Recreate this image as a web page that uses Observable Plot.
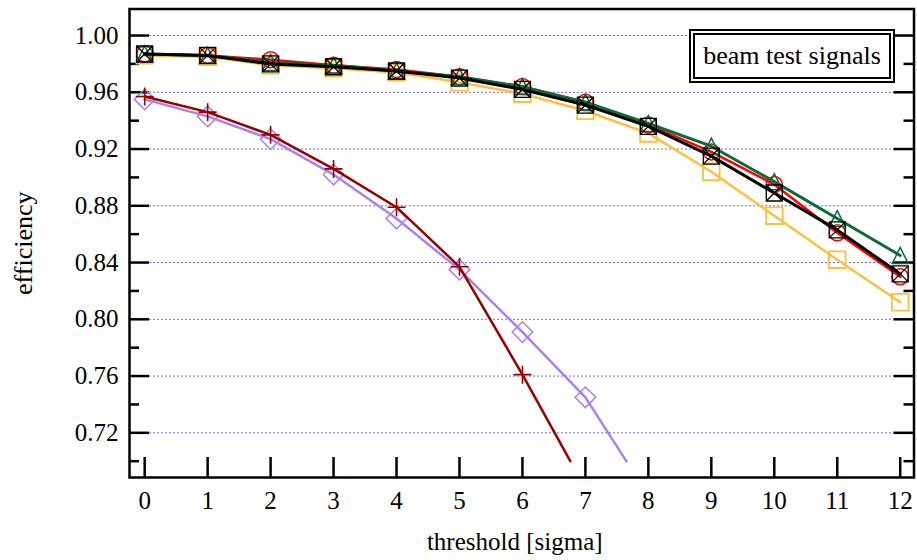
<!DOCTYPE html>
<html>
<head>
<meta charset="utf-8">
<script src="https://cdn.jsdelivr.net/npm/d3@7"></script>
<script src="https://cdn.jsdelivr.net/npm/@observablehq/plot@0.6"></script>
<style>
  body { margin: 0; background: #fff; }
  #chart { position: relative; width: 917px; height: 560px; }
  #chart svg text { font-variant-ligatures: none; }
  #legend {
    position: absolute; left: 689px; top: 29px; width: 206px; height: 54px;
    box-sizing: border-box; border: 6px double #000; background: #fff;
    font: 26px "Liberation Serif", "Times New Roman", serif;
    display: flex; align-items: center; justify-content: center; white-space: nowrap;
  }
</style>
</head>
<body>
<div id="chart"><div id="legend">beam test signals</div></div>
<script>
// Threshold in units of noise sigma
const thresholds = [0, 1, 2, 3, 4, 5, 6, 7, 8, 9, 10, 11, 12];

// Efficiency per threshold, one array per signal set
const redEff    = [0.987, 0.986, 0.983, 0.979, 0.976, 0.971, 0.964, 0.953, 0.937, 0.918, 0.895, 0.861, 0.830];
const greenEff  = [0.987, 0.986, 0.981, 0.979, 0.975, 0.971, 0.964, 0.953, 0.938, 0.922, 0.897, 0.871, 0.845];
const blackEff  = [0.987, 0.986, 0.980, 0.978, 0.975, 0.970, 0.962, 0.951, 0.936, 0.915, 0.889, 0.863, 0.832];
const orangeEff = [0.986, 0.985, 0.979, 0.977, 0.974, 0.967, 0.959, 0.947, 0.931, 0.904, 0.873, 0.842, 0.812];
const darkRedEff = [0.957, 0.946, 0.930, 0.906, 0.879, 0.837, 0.761];
const purpleEff  = [0.955, 0.943, 0.927, 0.902, 0.871, 0.835, 0.791, 0.745];

// Where the two steep curves leave the drawn range
const darkRedEnd = [6.76, 0.700];
const purpleEnd  = [7.65, 0.700];

// Axis ticks
const yMajor = [0.72, 0.76, 0.80, 0.84, 0.88, 0.92, 0.96, 1.00];
const yMinor = [0.70, 0.74, 0.78, 0.82, 0.86, 0.90, 0.94, 0.98];

const rows = vals => vals.map((y, i) => ({x: thresholds[i], y}));
const withEnd = (vals, end) => [...rows(vals), {x: end[0], y: end[1]}];

// Open marker shapes; r is recovered from the symbol area Plot passes in
const rad = s => Math.sqrt(s / Math.PI);
const openCircle = {draw(c, s) { const r = rad(s); c.moveTo(r, 0); c.arc(0, 0, r, 0, 2 * Math.PI); }};
const openSquare = {draw(c, s) { const r = rad(s); c.rect(-r, -r, 2 * r, 2 * r); }};
const squareX = {draw(c, s) {
  const r = rad(s);
  c.rect(-r, -r, 2 * r, 2 * r);
  c.moveTo(-r, -r); c.lineTo(r, r);
  c.moveTo(r, -r); c.lineTo(-r, r);
}};
const openTriangle = {draw(c, s) { const r = rad(s); c.moveTo(0, -r); c.lineTo(r, r); c.lineTo(-r, r); c.closePath(); }};
const openDiamond = {draw(c, s) { const r = rad(s); c.moveTo(0, -r); c.lineTo(r, 0); c.lineTo(0, r); c.lineTo(-r, 0); c.closePath(); }};
const thinPlus = {draw(c, s) { const r = rad(s); c.moveTo(-r, 0); c.lineTo(r, 0); c.moveTo(0, -r); c.lineTo(0, r); }};

const W = 917, H = 560;
const mL = 129, mR = 3.5, mT = 8.5, mB = 83;
const frameW = W - mL - mR, frameH = H - mT - mB;
const tickLong = 20, tickShort = 10;

const series = [
  {vals: orangeEff, color: "#fdbf3f", width: 2.5, symbol: openSquare, r: 8.3, sw: 1.8},
  {vals: redEff,    color: "#ff0000", width: 2.5, symbol: openCircle, r: 8,   sw: 1.5},
  {vals: greenEff,  color: "#0b6b3a", width: 3,   symbol: openTriangle, r: 8, sw: 1.5},
  {vals: blackEff,  color: "#000000", width: 3,   symbol: squareX,    r: 8,   sw: 1.3}
];

const marks = [
  Plot.ruleY(yMajor, {stroke: "#6a6af5", strokeWidth: 1, strokeDasharray: "2,2"}),
  // inward ticks on left, right and bottom
  Plot.ruleY(yMajor, {insetRight: frameW - tickLong, stroke: "#000", strokeWidth: 2.5}),
  Plot.ruleY(yMinor, {insetRight: frameW - tickShort, stroke: "#000", strokeWidth: 2.5}),
  Plot.ruleY(yMajor, {insetLeft: frameW - tickLong, stroke: "#000", strokeWidth: 2.5}),
  Plot.ruleY(yMinor, {insetLeft: frameW - tickShort, stroke: "#000", strokeWidth: 2.5}),
  Plot.ruleX(thresholds, {insetTop: frameH - tickLong, stroke: "#000", strokeWidth: 2.5}),
  Plot.axisY(yMajor, {tickSize: 0, tickPadding: 11, tickFormat: d3.format(".2f"), label: null}),
  Plot.axisX(thresholds, {tickSize: 0, tickPadding: 14, tickFormat: d3.format("d"), label: null}),
  Plot.text(["efficiency"], {frameAnchor: "left", textAnchor: "middle", lineAnchor: "middle", rotate: -90, dx: -106, fontSize: 26}),
  Plot.text(["threshold [sigma]"], {frameAnchor: "bottom", textAnchor: "middle", lineAnchor: "middle", dx: -7, dy: 64, fontSize: 25})
];

// purple and dark red curves, dark red drawn over purple
marks.push(
  Plot.line(withEnd(purpleEff, purpleEnd), {x: "x", y: "y", stroke: "#a882ec", strokeWidth: 2.5}),
  Plot.dot(rows(purpleEff), {x: "x", y: "y", symbol: openDiamond, r: 10.3, fill: "none", stroke: "#a882ec", strokeWidth: 1.5}),
  Plot.line(withEnd(darkRedEff, darkRedEnd), {x: "x", y: "y", stroke: "#990000", strokeWidth: 2.5}),
  Plot.dot(rows(darkRedEff), {x: "x", y: "y", symbol: thinPlus, r: 9, fill: "none", stroke: "#990000", strokeWidth: 1.6})
);

for (const s of series) {
  marks.push(
    Plot.line(rows(s.vals), {x: "x", y: "y", stroke: s.color, strokeWidth: s.width}),
    Plot.dot(rows(s.vals), {x: "x", y: "y", symbol: s.symbol, r: s.r, fill: "none", stroke: s.color, strokeWidth: s.sw})
  );
}

marks.push(Plot.frame({stroke: "#000", strokeWidth: 2.5}));

const chart = Plot.plot({
  width: W, height: H,
  marginLeft: mL, marginRight: mR, marginTop: mT, marginBottom: mB,
  x: {domain: [-0.241, 12.219]},
  y: {domain: [0.6885, 1.0187]},
  style: {fontFamily: "'Liberation Serif', 'Times New Roman', serif", fontSize: "25px", color: "#000", background: "#fff"},
  marks
});

document.getElementById("chart").prepend(chart);
</script>
</body>
</html>
